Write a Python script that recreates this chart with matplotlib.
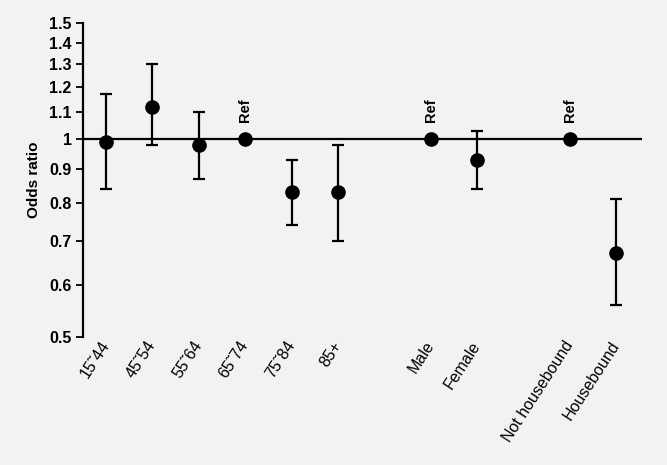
import matplotlib
matplotlib.use("Agg")
from matplotlib import pyplot as plt
from matplotlib.ticker import FixedLocator, NullLocator
import numpy as np

plt.rcParams['font.family'] = ['Liberation Sans', 'DejaVu Sans']

# data
labels = ['15˜44', '45˜54', '55˜64', '65˜74', '75˜84', '85+',
          'Male', 'Female', 'Not housebound', 'Housebound']
positions = [1, 2, 3, 4, 5, 6, 8, 9, 11, 12]
odds = [0.99, 1.12, 0.98, 1.00, 0.83, 0.83, 1.00, 0.93, 1.00, 0.67]
ci_low = [0.84, 0.98, 0.87, 1.00, 0.74, 0.70, 1.00, 0.84, 1.00, 0.56]
ci_high = [1.17, 1.30, 1.10, 1.00, 0.93, 0.98, 1.00, 1.03, 1.00, 0.81]
is_ref = [False, False, False, True, False, False, True, False, True, False]
yticks = [0.5, 0.6, 0.7, 0.8, 0.9, 1, 1.1, 1.2, 1.3, 1.4, 1.5]

bg = '#f2f2f2'
fig = plt.figure(figsize=(6.67, 4.65), dpi=100, facecolor=bg)
ax = fig.add_axes([0.124, 0.2753, 0.8385, 0.6747])
ax.set_facecolor(bg)

ax.axhline(1, color='black', lw=1.6, zorder=1)

odds = np.array(odds)
low = np.array(ci_low)
high = np.array(ci_high)
err = np.vstack([odds - low, high - odds])
ax.errorbar(positions, odds, yerr=err, fmt='o', color='black',
            markersize=9.5, elinewidth=1.6, capsize=4.5, capthick=1.6,
            zorder=3)

for x, y, r in zip(positions, odds, is_ref):
    if r:
        ax.annotate('Ref', (x, y), xytext=(0, 12), textcoords='offset points',
                    rotation=90, ha='center', va='bottom',
                    fontsize=10.5, fontweight='bold')

ax.set_yscale('log')
ax.set_ylim(0.5, 1.5)
ax.set_xlim(0.5, 12.55)
ax.yaxis.set_major_locator(FixedLocator(yticks))
ax.yaxis.set_minor_locator(NullLocator())
ax.set_yticklabels([('%g' % t) for t in yticks], fontsize=11.5,
                   fontweight='bold')
ax.tick_params(axis='y', direction='out', length=5, width=1.3, pad=3)

ax.set_xticks(positions)
ax.set_xticklabels(labels, rotation=57, ha='right', va='center',
                   rotation_mode='anchor', fontsize=11.5)
ax.tick_params(axis='x', length=0, pad=4)

for s in ['top', 'right', 'bottom']:
    ax.spines[s].set_visible(False)
ax.spines['left'].set_linewidth(1.6)

ax.set_ylabel('Odds ratio', fontsize=11, fontweight='bold', labelpad=6)

fig.savefig('out.png', dpi=100, facecolor=bg)
